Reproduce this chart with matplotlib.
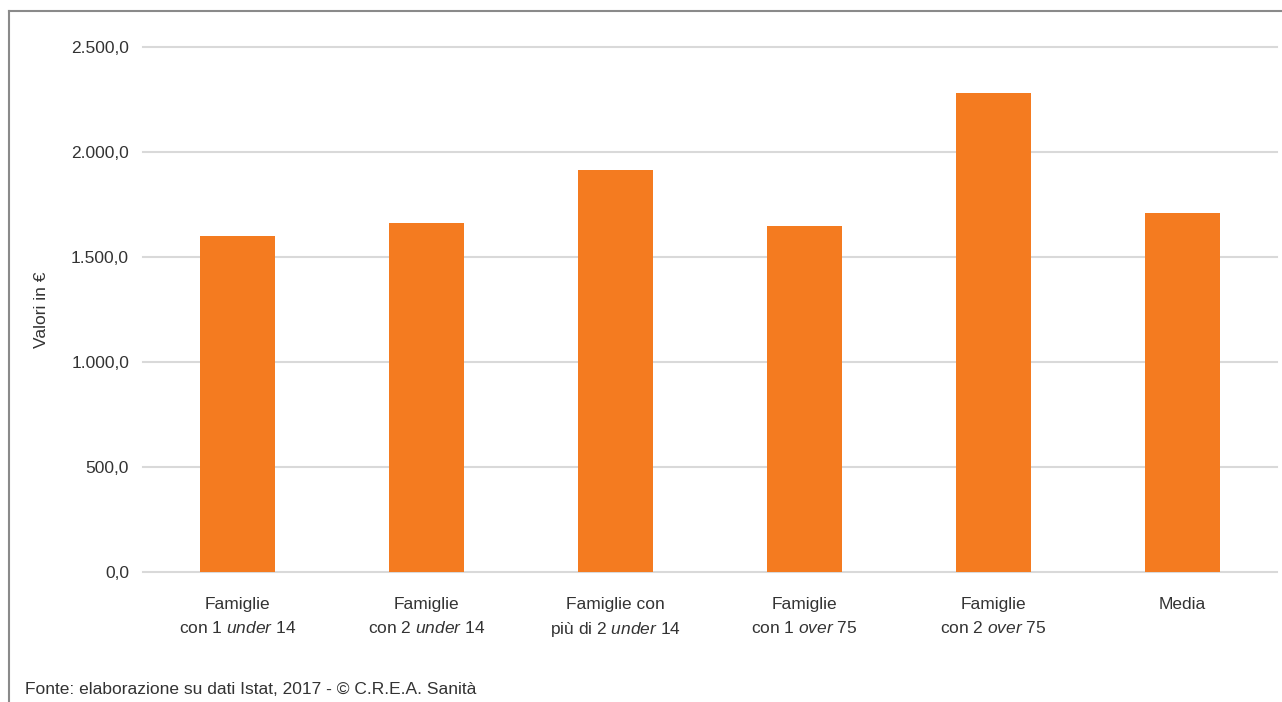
import matplotlib
matplotlib.use("Agg")
import matplotlib.pyplot as plt
from matplotlib.lines import Line2D

# dati
categorie = ["Famiglie\ncon 1 $\\mathit{under}$ 14",
             "Famiglie\ncon 2 $\\mathit{under}$ 14",
             "Famiglie con\npiù di 2 $\\mathit{under}$ 14",
             "Famiglie\ncon 1 $\\mathit{over}$ 75",
             "Famiglie\ncon 2 $\\mathit{over}$ 75",
             "Media"]
valori = [1600, 1664, 1914, 1648, 2281, 1710]
yticks = [0, 500, 1000, 1500, 2000, 2500]
ytick_lab = ["0,0", "500,0", "1.000,0", "1.500,0", "2.000,0", "2.500,0"]

font = "Liberation Sans"
plt.rcParams["font.family"] = [font, "DejaVu Sans"]
plt.rcParams["mathtext.fontset"] = "custom"
plt.rcParams["mathtext.rm"] = font
plt.rcParams["mathtext.it"] = font + ":italic"

fs = 12.5
fig = plt.figure(figsize=(12.82, 7.02), dpi=100)
ax = fig.add_axes([143/1282, 1 - 572/702, (1277-143)/1282, (572-47)/702])

x = list(range(len(valori)))
ax.bar(x, valori, width=0.40, color="#F47B20", zorder=3)
ax.set_xlim(-0.5, len(valori) - 0.5)
ax.set_ylim(0, 2500)
ax.set_yticks(yticks)
ax.set_yticklabels(ytick_lab)
ax.set_xticks(x)
ax.set_xticklabels(categorie, linespacing=1.6)
ax.grid(axis="y", color="#D9D9D9", linewidth=1.5, zorder=0)
for gl in ax.get_ygridlines():
    gl.set_clip_on(False)
for s in ax.spines.values():
    s.set_visible(False)
ax.tick_params(axis="both", length=0, labelsize=fs, colors="#333333")
ax.tick_params(axis="y", pad=10)
ax.tick_params(axis="x", pad=18)
ax.set_ylabel("Valori in €", fontsize=fs, color="#333333", labelpad=16)

# cornice
fig.add_artist(Line2D([9/1282, 1.0], [1 - 11/702, 1 - 11/702], color="#8A8A8A", linewidth=1.5))
fig.add_artist(Line2D([9/1282, 9/1282], [0, 1 - 11/702], color="#8A8A8A", linewidth=1.5))

fig.text(25/1282, 1 - 690/702, "Fonte: elaborazione su dati Istat, 2017 - © C.R.E.A. Sanità",
         fontsize=fs, color="#333333", va="center")

plt.savefig("out.png", dpi=100)
plt.close()
